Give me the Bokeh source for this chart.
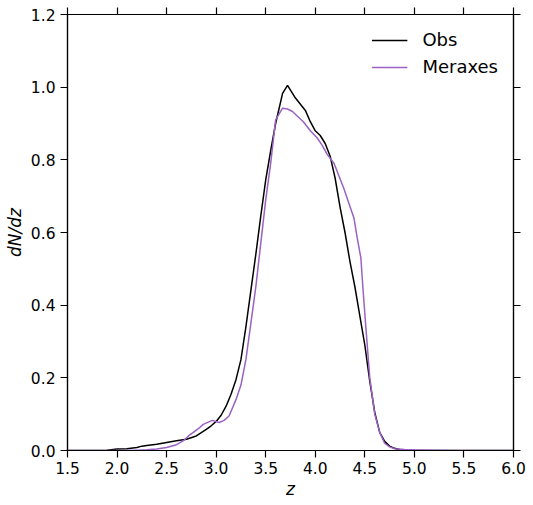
from bokeh.plotting import figure
from bokeh.models import (LinearAxis, FixedTicker, NumeralTickFormatter, Range1d, Legend, LegendItem)
from bokeh.embed import file_html
from bokeh.resources import INLINE

# Observed distribution
obs_z = [1.5, 1.6, 1.7, 1.8, 1.9, 2.0, 2.1, 2.2, 2.25, 2.3, 2.4, 2.5, 2.6, 2.7, 2.8, 2.9, 2.95,
         3.0, 3.05, 3.1, 3.15, 3.2, 3.25, 3.3, 3.35, 3.4, 3.45, 3.5, 3.55, 3.6, 3.67, 3.72,
         3.8, 3.9, 3.95, 4.0, 4.05, 4.1, 4.15, 4.2, 4.25, 4.3, 4.35, 4.4, 4.45, 4.5, 4.55,
         4.6, 4.65, 4.7, 4.75, 4.8, 4.85, 4.9, 5.0, 5.5, 6.0]
obs_dndz = [0.0, 0.0, 0.0, 0.0, 0.001, 0.004, 0.005, 0.008, 0.012, 0.014, 0.017, 0.022, 0.027,
            0.031, 0.04, 0.058, 0.068, 0.08, 0.097, 0.122, 0.155, 0.195, 0.25, 0.34, 0.44, 0.54,
            0.645, 0.745, 0.825, 0.9, 0.983, 1.005, 0.97, 0.936, 0.905, 0.88, 0.867, 0.845, 0.81,
            0.75, 0.67, 0.6, 0.52, 0.45, 0.37, 0.29, 0.19, 0.105, 0.05, 0.025, 0.012, 0.006,
            0.003, 0.001, 0.0, 0.0, 0.0]

# Meraxes model distribution
mer_z = [1.5, 2.0, 2.1, 2.2, 2.3, 2.4, 2.5, 2.6, 2.67, 2.72, 2.77, 2.82, 2.87, 2.96, 3.03, 3.08,
         3.13, 3.2, 3.25, 3.3, 3.35, 3.4, 3.45, 3.5, 3.55, 3.6, 3.67, 3.72, 3.77, 3.82, 3.88,
         3.95, 4.02, 4.07, 4.12, 4.19, 4.24, 4.29, 4.34, 4.39, 4.42, 4.46, 4.48, 4.51, 4.55,
         4.6, 4.65, 4.7, 4.75, 4.8, 4.9, 5.0, 5.2, 5.4, 6.0]
mer_dndz = [0.0, 0.0, 0.0, 0.001, 0.002, 0.004, 0.008, 0.016, 0.027, 0.04, 0.05, 0.06, 0.072,
            0.083, 0.077, 0.083, 0.095, 0.14, 0.18, 0.25, 0.35, 0.45, 0.57, 0.69, 0.79, 0.91,
            0.942, 0.94, 0.933, 0.92, 0.905, 0.88, 0.86, 0.84, 0.815, 0.79, 0.755, 0.72, 0.68,
            0.64, 0.59, 0.53, 0.45, 0.34, 0.2, 0.1, 0.05, 0.02, 0.01, 0.005, 0.003, 0.002,
            0.001, 0.0, 0.0]

x_ticks = [1.5, 2.0, 2.5, 3.0, 3.5, 4.0, 4.5, 5.0, 5.5, 6.0]
y_ticks = [0.0, 0.2, 0.4, 0.6, 0.8, 1.0, 1.2]

FONT = "DejaVu Sans"

p = figure(width=533, height=505, output_backend="svg", toolbar_location=None,
           x_range=Range1d(1.5, 6.0), y_range=Range1d(0.0, 1.2),
           x_axis_location=None, y_axis_location=None,
           min_border_left=67, min_border_right=20, min_border_top=14, min_border_bottom=55)
p.grid.visible = False
p.outline_line_color = "black"
p.outline_line_width = 1.2
p.background_fill_color = "white"
p.border_fill_color = "white"


def style_axis(ax, labels=True):
    ax.major_tick_out = 7
    ax.major_tick_in = 0
    ax.minor_tick_out = 0
    ax.minor_tick_in = 0
    ax.major_tick_line_color = "black"
    ax.major_tick_line_width = 1.2
    ax.axis_line_color = "black"
    ax.axis_line_width = 1.2
    ax.major_label_text_font = FONT
    ax.major_label_text_font_size = "15.5px"
    ax.major_label_text_color = "black"
    ax.axis_label_text_font = FONT
    ax.axis_label_text_font_size = "17px"
    ax.axis_label_text_font_style = "italic"
    ax.axis_label_text_color = "black"
    if not labels:
        ax.major_label_text_color = None
        ax.major_label_standoff = 0


xb = LinearAxis(ticker=FixedTicker(ticks=x_ticks), formatter=NumeralTickFormatter(format="0.0"),
                axis_label="z")
style_axis(xb)
xb.major_label_standoff = 4
xb.axis_label_standoff = 2
p.add_layout(xb, "below")

yl = LinearAxis(ticker=FixedTicker(ticks=y_ticks), formatter=NumeralTickFormatter(format="0.0"),
                axis_label="dN/dz")
style_axis(yl)
yl.major_label_standoff = 5
yl.axis_label_standoff = 3
p.add_layout(yl, "left")

xt = LinearAxis(ticker=FixedTicker(ticks=x_ticks))
style_axis(xt, labels=False)
xt.major_label_overrides = {t: "" for t in x_ticks}
p.add_layout(xt, "above")

yr = LinearAxis(ticker=FixedTicker(ticks=y_ticks))
style_axis(yr, labels=False)
yr.major_label_overrides = {t: "" for t in y_ticks}
p.add_layout(yr, "right")

r_obs = p.line(obs_z, obs_dndz, line_color="black", line_width=1.5)
r_mer = p.line(mer_z, mer_dndz, line_color="#9a62c2", line_width=1.5)

legend = Legend(items=[LegendItem(label="Obs", renderers=[r_obs]),
                       LegendItem(label="Meraxes", renderers=[r_mer])],
                location="top_right")
legend.border_line_alpha = 0
legend.background_fill_alpha = 0
legend.label_text_font = FONT
legend.label_text_font_size = "18px"
legend.label_text_color = "black"
legend.glyph_width = 36
legend.glyph_height = 20
legend.label_height = 20
legend.label_standoff = 15
legend.spacing = 6
legend.padding = 0
legend.margin = 15
p.add_layout(legend, "center")

open("out.html", "w").write(file_html(p, INLINE))
